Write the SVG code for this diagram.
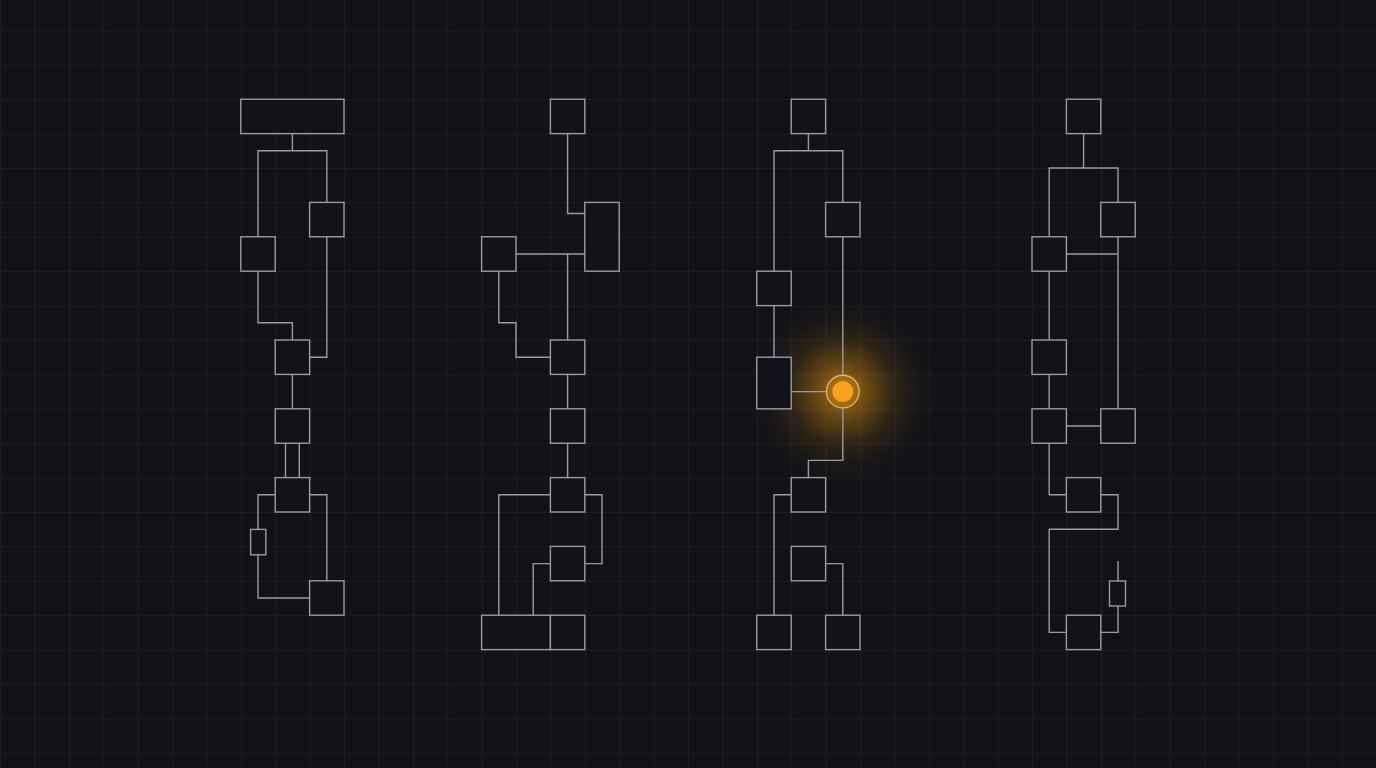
<svg xmlns="http://www.w3.org/2000/svg" width="1376" height="768" viewBox="0 0 1376 768">
<style>
.n{fill:#121318;stroke:#9a9ca3;stroke-width:1.4}
.c path{fill:none;stroke:#9a9ca3;stroke-width:1.4}
</style>
<defs>
<pattern id="grid" x="0" y="30.4" width="34.4" height="34.4" patternUnits="userSpaceOnUse">
<path d="M0 0.5H34.4M0.5 0V34.4" fill="none" stroke="#1b1e28" stroke-width="1.2"/>
</pattern>
<radialGradient id="glow" cx="842.8" cy="391.6" r="95" gradientUnits="userSpaceOnUse">
<stop offset="0" stop-color="#f59e0b" stop-opacity="0.7"/>
<stop offset="0.25" stop-color="#f59e0b" stop-opacity="0.4"/>
<stop offset="0.55" stop-color="#f59e0b" stop-opacity="0.13"/>
<stop offset="0.8" stop-color="#f59e0b" stop-opacity="0.03"/>
<stop offset="1" stop-color="#f59e0b" stop-opacity="0"/>
</radialGradient>
</defs>
<rect width="1376" height="768" fill="#111217"/>
<rect width="1376" height="768" fill="url(#grid)"/>
<circle cx="842.8" cy="391.6" r="95" fill="url(#glow)"/>

<g class="c" id="connectors">
<path d="M292.4 133.6V150.8M258 236.8V150.8H326.8V202.4"/>
<path d="M258 271.2V322.8H292.4V340"/>
<path d="M326.8 236.8V357.2H309.6"/>
<path d="M292.4 374.4V408.8"/>
<path d="M285.5 443.2V477.6M299.3 443.2V477.6"/>
<path d="M275.2 494.8H258V529.4"/>
<path d="M258 554.8V598H309.6"/>
<path d="M309.6 494.8H326.8V580.8"/>

<path d="M567.6 133.6V213.5H584.8"/>
<path d="M516 254H584.8M567.6 254V340"/>
<path d="M498.8 271.2V322.8H516V357.2H550.4"/>
<path d="M567.6 374.4V408.8M567.6 443.2V477.6"/>
<path d="M550.4 494.8H498.8V615.2"/>
<path d="M584.8 494.8H602V563.6H584.8"/>
<path d="M550.4 563.6H533.2V615.2"/>

<path d="M808.4 133.6V150.8M774 271.2V150.8H842.8V202.4"/>
<path d="M774 305.6V357.2"/>
<path d="M842.8 236.8V375.3"/>
<path d="M791.2 391.6H826.5"/>
<path d="M842.8 407.9V460.4H808.4V477.6"/>
<path d="M791.2 494.8H774V615.2"/>
<path d="M825.6 563.6H842.8V615.2"/>

<path d="M1083.6 133.6V168M1049.2 236.8V168H1118V202.4"/>
<path d="M1066.4 254H1118M1118 236.8V408.8"/>
<path d="M1049.2 271.2V340M1049.2 374.4V408.8"/>
<path d="M1066.4 426H1100.8"/>
<path d="M1049.2 443.2V494.8H1066.4"/>
<path d="M1100.8 494.8H1118V529.2H1049.2V632.4H1066.4"/>
<path d="M1100.8 632.4H1118V606"/>
<path d="M1118 581V561"/>
</g>

<g id="d1-top"><rect class="n" x="240.8" y="99.2" width="103.2" height="34.4"/></g>
<g id="d1-left"><rect class="n" x="240.8" y="236.8" width="34.4" height="34.4"/></g>
<g id="d1-right"><rect class="n" x="309.6" y="202.4" width="34.4" height="34.4"/></g>
<g id="d1-mid1"><rect class="n" x="275.2" y="340" width="34.4" height="34.4"/></g>
<g id="d1-mid2"><rect class="n" x="275.2" y="408.8" width="34.4" height="34.4"/></g>
<g id="d1-mid3"><rect class="n" x="275.2" y="477.6" width="34.4" height="34.4"/></g>
<g id="d1-small"><rect class="n" x="250.6" y="529.4" width="15.2" height="25.4"/></g>
<g id="d1-bottom"><rect class="n" x="309.6" y="580.8" width="34.4" height="34.4"/></g>

<g id="d2-top"><rect class="n" x="550.4" y="99.2" width="34.4" height="34.4"/></g>
<g id="d2-tall"><rect class="n" x="584.8" y="202.4" width="34.4" height="68.8"/></g>
<g id="d2-left"><rect class="n" x="481.6" y="236.8" width="34.4" height="34.4"/></g>
<g id="d2-mid1"><rect class="n" x="550.4" y="340" width="34.4" height="34.4"/></g>
<g id="d2-mid2"><rect class="n" x="550.4" y="408.8" width="34.4" height="34.4"/></g>
<g id="d2-mid3"><rect class="n" x="550.4" y="477.6" width="34.4" height="34.4"/></g>
<g id="d2-mid4"><rect class="n" x="550.4" y="546.4" width="34.4" height="34.4"/></g>
<g id="d2-wide"><rect class="n" x="481.6" y="615.2" width="68.8" height="34.4"/></g>
<g id="d2-bottom"><rect class="n" x="550.4" y="615.2" width="34.4" height="34.4"/></g>

<g id="d3-top"><rect class="n" x="791.2" y="99.2" width="34.4" height="34.4"/></g>
<g id="d3-right"><rect class="n" x="825.6" y="202.4" width="34.4" height="34.4"/></g>
<g id="d3-left"><rect class="n" x="756.8" y="271.2" width="34.4" height="34.4"/></g>
<g id="d3-tall"><rect class="n" x="756.8" y="357.2" width="34.4" height="51.6"/></g>
<g id="d3-active">
<circle cx="842.8" cy="391.6" r="16.3" fill="#f59e0b" fill-opacity="0.22" stroke="#e0b27a" stroke-width="1.4"/>
<circle cx="842.8" cy="391.6" r="10.5" fill="#f7a11d"/>
</g>
<g id="d3-mid1"><rect class="n" x="791.2" y="477.6" width="34.4" height="34.4"/></g>
<g id="d3-mid2"><rect class="n" x="791.2" y="546.4" width="34.4" height="34.4"/></g>
<g id="d3-bl"><rect class="n" x="756.8" y="615.2" width="34.4" height="34.4"/></g>
<g id="d3-br"><rect class="n" x="825.6" y="615.2" width="34.4" height="34.4"/></g>

<g id="d4-top"><rect class="n" x="1066.4" y="99.2" width="34.4" height="34.4"/></g>
<g id="d4-right"><rect class="n" x="1100.8" y="202.4" width="34.4" height="34.4"/></g>
<g id="d4-left"><rect class="n" x="1032" y="236.8" width="34.4" height="34.4"/></g>
<g id="d4-mid1"><rect class="n" x="1032" y="340" width="34.4" height="34.4"/></g>
<g id="d4-mid2"><rect class="n" x="1032" y="408.8" width="34.4" height="34.4"/></g>
<g id="d4-mid2r"><rect class="n" x="1100.8" y="408.8" width="34.4" height="34.4"/></g>
<g id="d4-mid3"><rect class="n" x="1066.4" y="477.6" width="34.4" height="34.4"/></g>
<g id="d4-small"><rect class="n" x="1109.5" y="581" width="16" height="25"/></g>
<g id="d4-bottom"><rect class="n" x="1066.4" y="615.2" width="34.4" height="34.4"/></g>
</svg>
